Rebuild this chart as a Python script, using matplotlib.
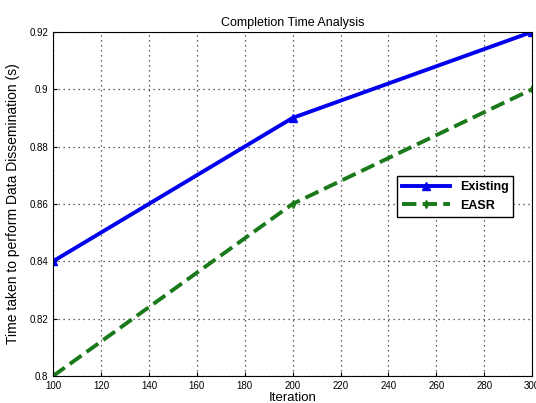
import matplotlib
matplotlib.use("Agg")
import matplotlib.pyplot as plt

# values
iterations = [100, 200, 300]
existing = [0.84, 0.89, 0.92]
easr = [0.80, 0.86, 0.90]
x_ticks = [100, 120, 140, 160, 180, 200, 220, 240, 260, 280, 300]
y_ticks = [0.80, 0.82, 0.84, 0.86, 0.88, 0.90, 0.92]
y_labels = ["0.8", "0.82", "0.84", "0.86", "0.88", "0.9", "0.92"]

plt.rcParams["font.family"] = ["Liberation Sans", "DejaVu Sans"]

fig = plt.figure(figsize=(5.36, 4.03), dpi=100)
ax = fig.add_axes([0.099, 0.067, 0.894, 0.854])

ax.plot(iterations, existing, color="#0000ee", lw=2.8, marker="^", ms=6, label="Existing")
ax.plot(iterations, easr, color="#1a7a1a", lw=2.8, ls="--", marker="d", ms=4, label="EASR")

ax.set_xlim(100, 300)
ax.set_ylim(0.80, 0.92)
ax.set_xticks(x_ticks)
ax.set_yticks(y_ticks)
ax.set_yticklabels(y_labels)
ax.tick_params(labelsize=7, direction="in", length=3)
ax.grid(True, ls=(0, (1, 3)), color="#333333", lw=0.9)

ax.set_title("Completion Time Analysis", fontsize=9, pad=4)
ax.set_xlabel("Iteration", fontsize=9.5, labelpad=1)
ax.set_ylabel("Time taken to perform Data Dissemination (s)", fontsize=10, labelpad=7)

leg = ax.legend(loc="lower left", bbox_to_anchor=(0.705, 0.445),
                prop={"weight": "bold", "size": 9}, fancybox=False, framealpha=1,
                edgecolor="black", handlelength=3.8, borderpad=0.4)

fig.savefig("out.png", dpi=100)
